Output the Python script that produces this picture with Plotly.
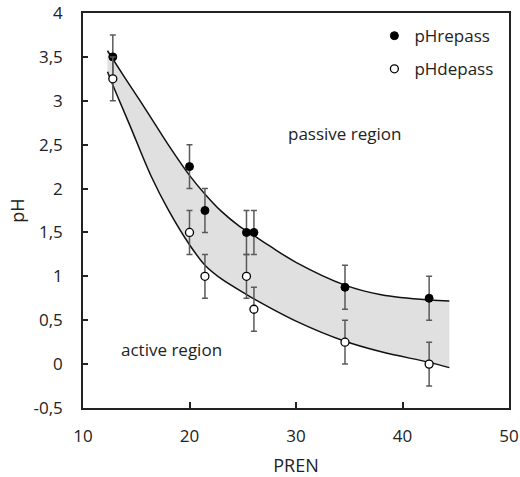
import plotly.graph_objects as go

# Measured data points
pren = [12.8, 20.0, 21.45, 25.35, 26.05, 34.6, 42.5]
ph_repass = [3.5, 2.25, 1.75, 1.5, 1.5, 0.875, 0.75]
ph_depass = [3.25, 1.5, 1.0, 1.0, 0.625, 0.25, 0.0]
err_repass = [0.25, 0.25, 0.25, 0.25, 0.25, 0.25, 0.25]
err_depass = [0.25, 0.25, 0.25, 0.25, 0.25, 0.25, 0.25]

# Trend curves
upper_x = [12.3, 14.0, 16.0, 18.0, 20.0, 21.5, 23.0, 24.7, 26.1, 27.6, 30.0, 34.6, 38.0, 42.5, 44.4]
upper_y = [3.57, 3.25, 2.88, 2.50, 2.15, 1.93, 1.74, 1.57, 1.46, 1.34, 1.16, 0.90, 0.79, 0.73, 0.72]
lower_x = [12.3, 13.0, 14.4, 16.4, 18.0, 20.0, 21.5, 23.0, 25.4, 26.1, 30.0, 34.6, 38.0, 42.5, 44.4]
lower_y = [3.33, 3.12, 2.72, 2.14, 1.76, 1.36, 1.12, 0.97, 0.79, 0.74, 0.49, 0.26, 0.14, 0.02, -0.04]

x_ticks = [10, 20, 30, 40, 50]
y_ticks = [-0.5, 0, 0.5, 1, 1.5, 2, 2.5, 3, 3.5, 4]
y_labels = ["-0,5", "0", "0,5", "1", "1,5", "2", "2,5", "3", "3,5", "4"]

FONT = "Open Sans"
INK = "#222222"

fig = go.Figure()

fig.add_trace(go.Scatter(x=lower_x, y=lower_y, mode="lines", line=dict(color="#111111", width=1.5, shape="spline"),
                         showlegend=False, hoverinfo="skip"))
fig.add_trace(go.Scatter(x=upper_x, y=upper_y, mode="lines", line=dict(color="#111111", width=1.5, shape="spline"),
                         fill="tonexty", fillcolor="#e0e0e0", showlegend=False, hoverinfo="skip"))

fig.add_trace(go.Scatter(
    x=pren, y=ph_repass, mode="markers", name="pHrepass", legendgroup="a",
    marker=dict(symbol="circle", size=8, color="#000000", line=dict(color="#000000", width=1)),
    error_y=dict(type="data", array=err_repass, visible=True, color="#5a5a5a", thickness=1.5, width=3),
))
fig.add_trace(go.Scatter(
    x=pren, y=ph_depass, mode="markers", name="pHdepass", legendgroup="b",
    marker=dict(symbol="circle", size=8, color="#ffffff", line=dict(color="#000000", width=1.3)),
    error_y=dict(type="data", array=err_depass, visible=True, color="#5a5a5a", thickness=1.5, width=3),
))

fig.add_annotation(x=34.6, y=2.63, text="passive region", showarrow=False,
                   font=dict(family=FONT, size=17, color=INK))
fig.add_annotation(x=18.33, y=0.17, text="active region", showarrow=False,
                   font=dict(family=FONT, size=17, color=INK))

fig.update_layout(
    width=520, height=477,
    margin=dict(l=83, r=11, t=13, b=69, autoexpand=False),
    paper_bgcolor="white", plot_bgcolor="white",
    font=dict(family=FONT, size=17, color=INK),
    legend=dict(x=0.684, y=0.987, xanchor="left", yanchor="top", bgcolor="rgba(0,0,0,0)",
                font=dict(family=FONT, size=17, color=INK), traceorder="grouped", tracegroupgap=8),
    xaxis=dict(range=[10, 50], tickvals=x_ticks, ticktext=[str(v) for v in x_ticks], automargin=False,
               showgrid=False, zeroline=False, showline=True, linecolor=INK, linewidth=1.5, mirror=True,
               ticks="inside", ticklen=6, tickwidth=1.5, tickcolor=INK, ticklabelstandoff=12,
               ticklabeloverflow="allow",
               tickfont=dict(family=FONT, size=17, color=INK),
               title=dict(text="PREN", font=dict(family=FONT, size=18, color=INK), standoff=14)),
    yaxis=dict(range=[-0.5, 4], tickvals=y_ticks, ticktext=y_labels, automargin=False,
               showgrid=False, zeroline=False, showline=True, linecolor=INK, linewidth=1.5, mirror=True,
               ticks="inside", ticklen=5, tickwidth=1.5, tickcolor=INK, ticklabelstandoff=15,
               ticklabeloverflow="allow",
               tickfont=dict(family=FONT, size=17, color=INK),
               title=dict(text="pH", font=dict(family=FONT, size=18, color=INK), standoff=4)),
)

# Remove the browser's default 8px body margin so the figure fills the window exactly.
fig.write_html("out.html", config={"displayModeBar": False},
               post_script="document.body.style.margin='0';document.body.style.overflow='hidden';")
